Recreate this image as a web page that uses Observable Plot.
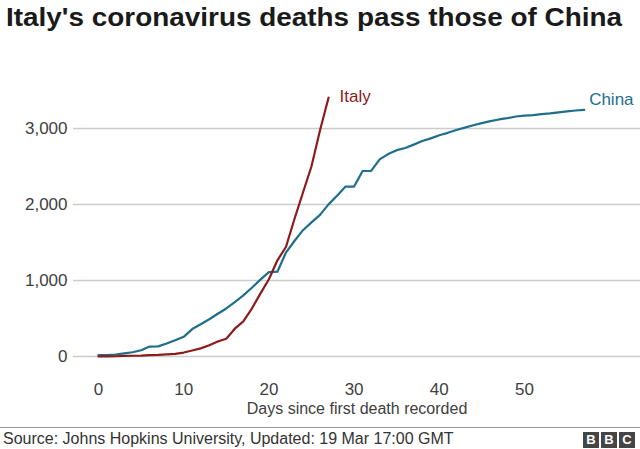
<!DOCTYPE html>
<html>
<head>
<meta charset="utf-8">
<script src="https://cdn.jsdelivr.net/npm/d3@7"></script>
<script src="https://cdn.jsdelivr.net/npm/@observablehq/plot@0.6"></script>
<style>
  body { margin: 0; background: #fff; font-family: "Liberation Sans", Arial, sans-serif; }
  #wrap { width: 640px; height: 449px; position: relative; overflow: hidden; background: #fff; }
  #title { position: absolute; left: 6px; top: 0; font-weight: bold; font-size: 26px; line-height: 34px; color: #1a1a1a; white-space: nowrap; transform-origin: 0 0; }
  #chart { position: absolute; left: 0; top: 44px; }
  #footer { position: absolute; left: 0; top: 427px; width: 640px; height: 22px; border-top: 1px solid #9a9a9a; }
  #source { position: absolute; left: 3px; top: 0; font-size: 16px; line-height: 21px; color: #333; white-space: nowrap; }
  #bbc { position: absolute; right: 5px; top: 4px; display: flex; gap: 2px; }
  #bbc span { display: block; width: 16px; height: 16px; background: #454545; color: #fff; font-weight: bold; font-size: 13px; line-height: 16px; text-align: center; }
</style>
</head>
<body>
<div id="wrap">
  <div id="title">Italy's coronavirus deaths pass those of China</div>
  <div id="chart"></div>
  <div id="footer">
    <div id="source">Source: Johns Hopkins University, Updated: 19 Mar 17:00 GMT</div>
    <div id="bbc"><span>B</span><span>B</span><span>C</span></div>
  </div>
</div>
<script>
// Cumulative deaths by days since first death recorded
const italyDeaths = [1, 2, 3, 7, 10, 12, 17, 21, 29, 34, 52, 79, 107, 148, 197, 233, 366, 463, 631, 827, 1016, 1266, 1441, 1809, 2158, 2503, 2978, 3405];
const chinaDeaths = [17, 18, 26, 42, 56, 82, 131, 133, 171, 213,
  259, 361, 425, 490, 562, 632, 717, 804, 904, 1011,
  1111, 1116, 1368, 1520, 1662, 1765, 1863, 2002, 2114, 2236,
  2236, 2441, 2443, 2593, 2663, 2715, 2744, 2788, 2835,
  2870, 2912, 2943, 2981, 3012, 3042, 3070, 3097, 3119, 3136,
  3158, 3169, 3176, 3189, 3199, 3213, 3226, 3237, 3245];
const seriesNames = ["Italy", "China"];
const xTicks = [0, 10, 20, 30, 40, 50];
const yTicks = [0, 1000, 2000, 3000];
const xLabel = "Days since first death recorded";

const italyColor = "#8c1c1c";
const chinaColor = "#1e6e8c";

const italy = italyDeaths.map((v, i) => ({day: i, deaths: v}));
const china = chinaDeaths.map((v, i) => ({day: i, deaths: v}));

const chart = Plot.plot({
  width: 640,
  height: 380,
  marginLeft: 73,
  marginRight: 0,
  marginTop: 0,
  marginBottom: 68,
  style: {fontFamily: "'Liberation Sans', Arial, sans-serif", fontSize: "17px", color: "#404040", background: "transparent", overflow: "visible"},
  x: {domain: [0, 60], range: [98, 609.2]},
  y: {domain: [0, 3000], range: [312, 84]},
  marks: [
    Plot.gridY(yTicks, {stroke: "#cccccc", strokeOpacity: 1, strokeWidth: 1.4}),
    Plot.axisY(yTicks, {tickSize: 0, tickPadding: 6, tickFormat: d3.format(","), fontSize: 17, label: null}),
    Plot.axisX(xTicks, {tickSize: 0, tickPadding: 26, fontSize: 17, label: null}),
    Plot.text([xLabel], {frameAnchor: "bottom", text: d => d, dy: 57, fontSize: 16, fill: "#404040"}),
    Plot.line(china, {x: "day", y: "deaths", stroke: chinaColor, strokeWidth: 2.2}),
    Plot.line(italy, {x: "day", y: "deaths", stroke: italyColor, strokeWidth: 2.2}),
    Plot.text([italy[italy.length - 1]], {x: "day", y: "deaths", text: () => seriesNames[0], dx: 11, dy: -1, textAnchor: "start", fill: italyColor, fontSize: 17}),
    Plot.text([china[china.length - 1]], {x: "day", y: "deaths", text: () => seriesNames[1], dx: 5, dy: -10, textAnchor: "start", fill: chinaColor, fontSize: 17})
  ]
});
document.getElementById("chart").appendChild(chart);

const t = document.getElementById("title");
const w = t.getBoundingClientRect().width;
t.style.transform = `scaleX(${616 / w})`;
</script>
</body>
</html>
